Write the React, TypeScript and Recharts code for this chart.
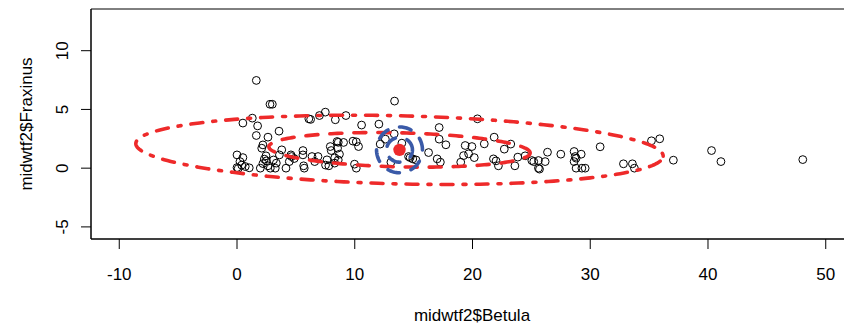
import { ScatterChart, Scatter, XAxis, YAxis, ReferenceArea } from 'recharts';

// midwtf2$Betula vs midwtf2$Fraxinus
const betula = [
  1.64, 2.8, 3.0, 0.5, 1.3, 1.75, 1.64, 2.63, 3.57, 6.1,
  6.25, 7.0, 7.5, 8.35, 9.25, 10.58, 12.05, 8.5, 8.6, 9.05,
  9.85, 10.13, 8.54, 8.0, 8.7, 8.3, 8.6, 5.6, 2.2, 2.1,
  3.8, 3.6, 0.0, 0.5, 0.25, 0.4, 0.0, 0.1, 1.04, 1.98,
  2.46, 2.32, 2.49, 2.2, 2.63, 2.83, 3.25, 3.34, 3.1, 4.16,
  4.44, 4.63, 4.58, 4.86, 5.66, 5.71, 6.37, 6.88, 6.6, 7.52,
  7.8, 9.98, 10.13, 13.38, 13.35, 12.6, 12.16, 14.0, 13.07, 14.57,
  14.93, 15.2, 14.7, 16.27, 17.17, 17.17, 17.74, 17.0, 17.27, 20.42,
  19.38, 19.95, 21.0, 21.84, 19.24, 20.15, 19.0, 21.78, 22.0, 22.2,
  22.7, 23.25, 23.6, 23.85, 24.47, 25.2, 35.2, 35.9, 37.06, 30.84,
  26.37, 27.5, 28.63, 29.23, 28.72, 28.63, 28.8, 28.8, 29.29, 29.57,
  32.82, 33.58, 33.75, 25.04, 25.6, 26.17, 25.6, 25.69, 40.3, 41.1,
  48.05, 19.67, 0.7, 5.6, 7.92, 10.32, 7.64, 8.29,
];
const fraxinus = [
  7.47, 5.44, 5.44, 3.84, 4.26, 3.6, 2.78, 2.64, 3.15, 4.2,
  4.15, 4.48, 4.77, 4.12, 4.48, 3.67, 3.75, 2.27, 2.2, 2.19,
  2.3, 2.24, 1.7, 1.5, 1.19, 0.88, 0.7, 1.5, 1.98, 1.7,
  1.56, 1.13, 1.13, 0.9, 0.56, 0.26, 0.05, -0.03, 0.03, 0.0,
  1.05, 0.77, 0.62, 0.39, 0.2, 0.0, 0.0, 0.43, 0.7, 0.0,
  0.56, 0.99, 1.13, 0.82, 0.2, 0.0, 0.99, 0.99, 0.56, 0.26,
  0.2, 0.34, 0.0, 5.71, 2.92, 2.47, 2.05, 2.13, 0.51, 0.99,
  0.79, 0.7, 0.9, 1.33, 3.46, 2.47, 1.99, 0.79, 0.51, 4.2,
  1.93, 1.84, 2.07, 2.64, 1.07, 0.9, 0.51, 0.79, 0.62, 0.2,
  1.62, 2.05, 0.2, 0.94, 1.05, 0.56, 2.33, 2.5, 0.68, 1.82,
  1.36, 1.19, 1.42, 1.19, 0.99, 0.56, 0.85, 0.0, 0.0, 0.0,
  0.37, 0.37, 0.0, 0.65, 0.65, 0.56, 0.0, -0.08, 1.5, 0.56,
  0.73, 1.22, 0.14, 1.13, 1.84, 1.84, 0.71, 0.43,
];

const xTicks = [-10, 0, 10, 20, 30, 40, 50];
const yTicks = [-5, 0, 5, 10];
const xDomain = [-12.4, 52.4];
const yDomain = [-6.03, 13.55];

// mean and ellipse sizes [semi-x, semi-y, tilt in radians]
const centre = { x: 13.8, y: 1.56 };
const redInner = [11.1, 1.45, -0.024];
const redOuter = [22.4, 2.9, -0.024];
const blueInner = [1.1, 1.05, 0];
const blueOuter = [1.95, 1.95, 0];

const points = betula.map((x, i) => ({ x, y: fraxinus[i] }));

const ellipse = ([a, b, t]: number[], n = 240) =>
  Array.from({ length: n + 1 }, (_, i) => {
    const s = (i / n) * Math.PI * 2;
    const u = a * Math.cos(s);
    const v = b * Math.sin(s);
    return {
      x: centre.x + u * Math.cos(t) - v * Math.sin(t),
      y: centre.y + u * Math.sin(t) + v * Math.cos(t),
    };
  });

const RED = '#ee2a2a';
const BLUE = '#3a5aa8';
const FONT = '"Liberation Sans", Arial, Helvetica, sans-serif';

const Ring = (p: any) => (
  <circle cx={p.cx} cy={p.cy} r={3.9} fill="none" stroke="#000" strokeWidth={1} />
);
const Nothing = () => <g />;
const Dot = (p: any) => <circle cx={p.cx} cy={p.cy} r={6.2} fill={RED} />;

const YTick = ({ y, payload }: any) => (
  <text
    x={68.3}
    y={y}
    transform={`rotate(-90 68.3 ${y})`}
    textAnchor="middle"
    fontSize={17}
    fontFamily={FONT}
    fill="#000"
  >
    {payload.value}
  </text>
);

export default function App() {
  const line = (stroke: string, dash: string) => ({
    stroke,
    strokeWidth: 3.6,
    strokeDasharray: dash,
    strokeLinecap: 'round' as const,
    fill: 'none',
  });

  return (
    <div style={{ position: 'absolute', left: 0, top: 0, width: 844, height: 327, overflow: 'hidden', background: '#fff' }}>
      <ScatterChart width={860} height={327} margin={{ top: 9, right: 6, bottom: 0, left: 0 }}>
        <XAxis
          type="number"
          dataKey="x"
          domain={xDomain}
          ticks={xTicks}
          allowDataOverflow
          height={88}
          tickSize={10}
          tickMargin={19}
          stroke="#000"
          tick={{ fontSize: 17, fontFamily: FONT, fill: '#000' }}
          label={{
            content: () => (
              <text x={472} y={320.5} textAnchor="middle" fontSize={17} fontFamily={FONT} fill="#000">
                midwtf2$Betula
              </text>
            ),
          }}
        />
        <YAxis
          type="number"
          dataKey="y"
          domain={yDomain}
          ticks={yTicks}
          allowDataOverflow
          width={91}
          tickSize={10}
          stroke="#000"
          tick={<YTick />}
          label={{
            content: () => (
              <text
                x={31.5}
                y={124}
                transform="rotate(-90 31.5 124)"
                textAnchor="middle"
                fontSize={17}
                fontFamily={FONT}
                fill="#000"
              >
                midwtf2$Fraxinus
              </text>
            ),
          }}
        />
        <ReferenceArea
          x1={xDomain[0]}
          x2={xDomain[1]}
          y1={yDomain[0]}
          y2={yDomain[1]}
          fill="none"
          stroke="#000"
          strokeWidth={1}
          ifOverflow="visible"
        />
        <Scatter data={points} shape={<Ring />} isAnimationActive={false} />
        <Scatter data={ellipse(redOuter)} shape={<Nothing />} line={line(RED, '3 10 12 10')} lineType="joint" isAnimationActive={false} />
        <Scatter data={ellipse(redInner)} shape={<Nothing />} line={line(RED, '12 12')} lineType="joint" isAnimationActive={false} />
        <Scatter data={ellipse(blueOuter, 120)} shape={<Nothing />} line={line(BLUE, '12 12')} lineType="joint" isAnimationActive={false} />
        <Scatter data={ellipse(blueInner, 120)} shape={<Nothing />} line={line(BLUE, '12 12')} lineType="joint" isAnimationActive={false} />
        <Scatter data={[centre]} shape={<Dot />} isAnimationActive={false} />
      </ScatterChart>
    </div>
  );
}
